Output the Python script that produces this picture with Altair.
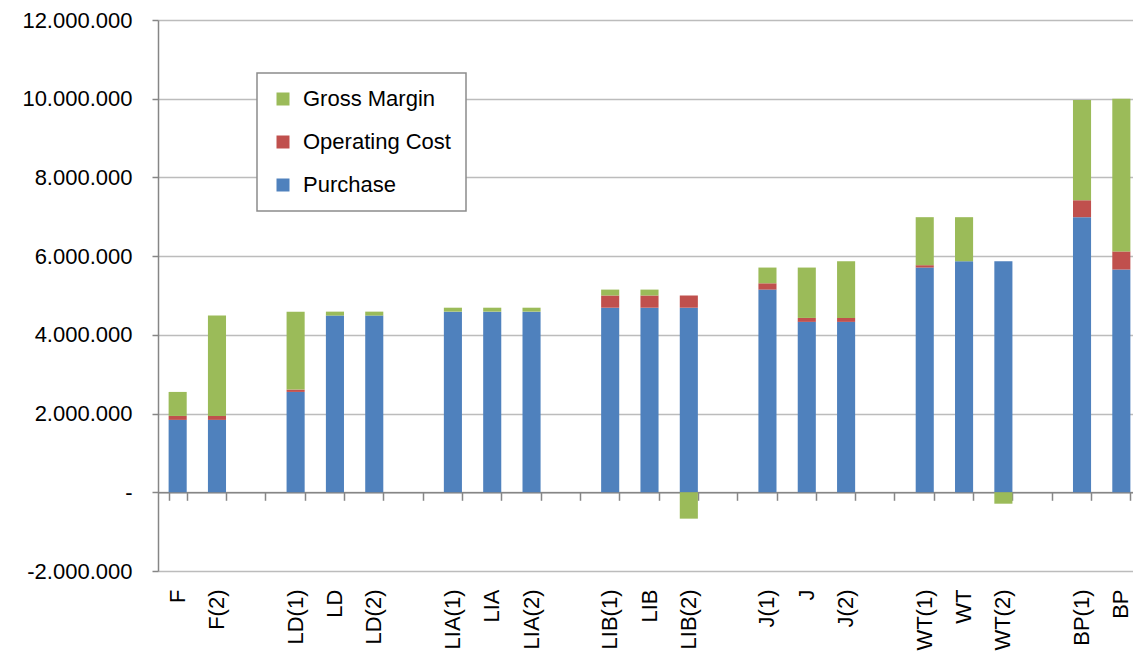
import altair as alt
import pandas as pd

# x slots (gap slots start with "_")
slots = ["F", "F(2)", "_g1", "LD(1)", "LD", "LD(2)", "_g2", "LIA(1)", "LIA", "LIA(2)", "_g3",
         "LIB(1)", "LIB", "LIB(2)", "_g4", "J(1)", "J", "J(2)", "_g5", "WT(1)", "WT", "WT(2)",
         "_g6", "BP(1)", "BP"]
categories = ["F", "F(2)", "LD(1)", "LD", "LD(2)", "LIA(1)", "LIA", "LIA(2)",
              "LIB(1)", "LIB", "LIB(2)", "J(1)", "J", "J(2)", "WT(1)", "WT", "WT(2)", "BP(1)", "BP"]
purchase = [1840000, 1840000, 2550000, 4490000, 4490000, 4590000, 4590000, 4590000,
            4690000, 4690000, 4690000, 5150000, 4330000, 4330000, 5710000, 5870000, 5870000,
            6990000, 5660000]
operating_cost = [100000, 100000, 60000, 0, 0, 0, 0, 0,
                  310000, 310000, 310000, 160000, 100000, 100000, 60000, 0, 0,
                  430000, 460000]
gross_margin = [610000, 2550000, 1980000, 100000, 100000, 100000, 100000, 100000,
                150000, 150000, -670000, 400000, 1280000, 1440000, 1220000, 1120000, -290000,
                2550000, 3880000]
series = ["Gross Margin", "Operating Cost", "Purchase"]
colors = ["#9BBB59", "#C0504D", "#4F81BD"]
y_ticks = [-2000000, 0, 2000000, 4000000, 6000000, 8000000, 10000000, 12000000]

rows = []
for i, c in enumerate(categories):
    rows.append({"cat": c, "series": "Purchase", "value": purchase[i], "ord": 0})
    rows.append({"cat": c, "series": "Operating Cost", "value": operating_cost[i], "ord": 1})
    rows.append({"cat": c, "series": "Gross Margin", "value": gross_margin[i], "ord": 2})
df = pd.DataFrame(rows)

W, H = 975, 551
XRANGE = 983  # band range slightly wider than the visible plot (last half-slot)
FONT = "Liberation Sans"
ymin, ymax = y_ticks[0], y_ticks[-1]
zero_offset = -H * (0 - ymin) / (ymax - ymin)

xscale = alt.Scale(domain=slots, paddingInner=0.54, paddingOuter=0.27, range=[0, XRANGE])
yscale = alt.Scale(domain=[ymin, ymax], nice=False, zero=False)

yaxis = alt.Axis(
    values=y_ticks, title=None, grid=True, gridColor="#bcbcbc", gridWidth=1.5,
    domainColor="#868686", domainWidth=1.5, tickColor="#868686", tickSize=6, tickWidth=1.5,
    labelFont=FONT, labelFontSize=22, labelColor="#000000", labelPadding=20, zindex=0,
    labelExpr="datum.value == 0 ? '-' : replace(replace(format(datum.value, ',d'), regexp(',', 'g'), '.'), '\u2212', '-')",
)

bars = alt.Chart(df).mark_bar().encode(
    x=alt.X("cat:N", scale=xscale, sort=slots,
            axis=alt.Axis(orient="bottom", title=None, labelAngle=-90, ticks=False, tickSize=0,
                          domain=False, grid=False, labelFont=FONT, labelFontSize=22,
                          labelColor="#000000", labelPadding=18, zindex=0,
                          labelExpr="indexof(datum.label, '_') == 0 ? '' : datum.label")),
    y=alt.Y("value:Q", scale=yscale, axis=yaxis, stack="zero"),
    color=alt.Color("series:N", scale=alt.Scale(domain=series, range=colors),
                    legend=alt.Legend(title=None, orient="none", legendX=99, legendY=53,
                                      fillColor="#ffffff", strokeColor="#8c8c8c",
                                      padding=15, symbolType="square", symbolSize=169,
                                      symbolStrokeWidth=0, labelFont=FONT, labelFontSize=22,
                                      labelColor="#000000", labelOffset=9, rowPadding=21,
                                      labelLimit=300)),
    order=alt.Order("ord:Q", sort="ascending"),
)

tick_layer = alt.Chart(df).mark_bar(opacity=0).encode(
    x=alt.X("cat:N", scale=xscale, sort=slots,
            axis=alt.Axis(orient="bottom", title=None, labels=False, ticks=True, tickSize=8,
                          tickColor="#868686", tickWidth=1.5, tickBand="extent",
                          domain=True, domainColor="#868686", domainWidth=1.5, grid=False,
                          offset=zero_offset, zindex=0)),
    y=alt.Y("value:Q", scale=yscale, axis=yaxis, stack="zero"),
)

chart = alt.layer(bars, tick_layer).resolve_axis(x="independent").properties(
    width=W, height=H,
    autosize=alt.AutoSizeParams(type="none"),
    padding={"left": 150, "top": 12, "right": 0, "bottom": 85},
).configure_view(stroke=None).configure_legend(strokeWidth=1.5)

chart.save("out.html", embed_options={"renderer": "svg", "actions": False})
